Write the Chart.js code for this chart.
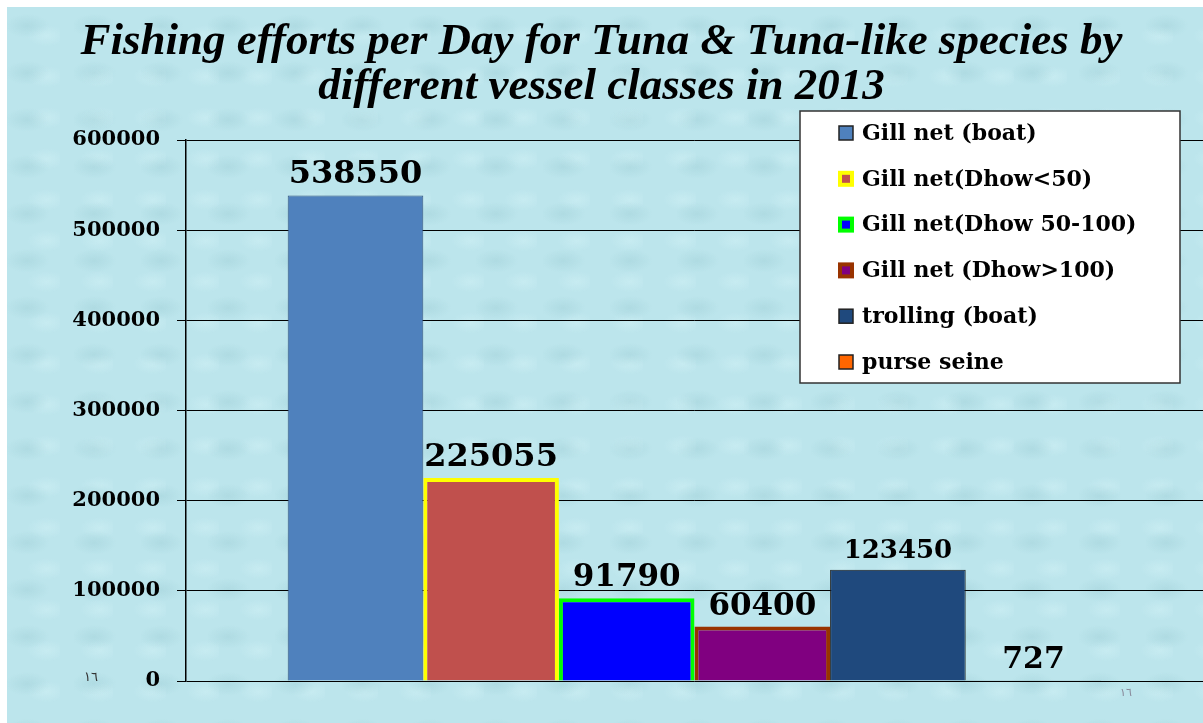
<!DOCTYPE html>
<html>
<head>
<meta charset="utf-8">
<script src="https://cdn.jsdelivr.net/npm/chart.js@4"></script>
<style>
  html, body { margin: 0; padding: 0; background: #fff; }
  #wrap {
    position: absolute; left: 7px; top: 7px; width: 1196px; height: 716px;
    background-color: #bce5ec;
    background-image:
      radial-gradient(ellipse 30px 16px at 30% 40%, rgba(150,200,208,0.35), rgba(150,200,208,0) 75%),
      radial-gradient(ellipse 26px 14px at 75% 70%, rgba(212,243,247,0.45), rgba(212,243,247,0) 75%);
    background-size: 67px 47px, 53px 41px;
  }
  canvas { position: absolute; left: 0; top: 0; }
</style>
</head>
<body>
<div id="wrap"></div>
<canvas id="grafico" width="1203" height="723"></canvas>
<script>
// dados do gráfico
const categorias = [''];
const series = ['Gill net (boat)', 'Gill net(Dhow<50)', 'Gill net(Dhow 50-100)', 'Gill net (Dhow>100)', 'trolling (boat)', 'purse seine'];
const valores = [538550, 225055, 91790, 60400, 123450, 727];
const yTicks = [0, 100000, 200000, 300000, 400000, 500000, 600000];

// estilos
const corFundo = ['#4F81BD', '#C0504D', '#0000FF', '#800080', '#1F497D', '#FF6600'];
const corBorda = ['#34557e', '#FFFF00', '#00FF00', '#993300', '#1a1a1a', '#1a1a1a'];
const larguraBorda = [1, 4, 4, 4, 1, 1];
const tamanhoRotulo = [32, 32, 31, 31, 26, 30];
const fonteSerif = "'DejaVu Serif', serif";

// rótulos de valores acima das barras
const rotulosPlugin = {
    id: 'rotulos',
    afterDatasetsDraw(chart) {
        const ctx = chart.ctx;
        ctx.save();
        ctx.fillStyle = '#000';
        ctx.textAlign = 'center';
        ctx.textBaseline = 'alphabetic';
        chart.data.datasets.forEach((ds, i) => {
            const bar = chart.getDatasetMeta(i).data[0];
            ctx.font = `bold ${tamanhoRotulo[i]}px ${fonteSerif}`;
            ctx.fillText(String(ds.data[0]), bar.x, bar.y - 12);
        });
        ctx.restore();
    }
};

// legenda desenhada sobre a área do gráfico
const legendaPlugin = {
    id: 'legendaCaixa',
    afterDraw(chart) {
        const ctx = chart.ctx;
        ctx.save();
        ctx.fillStyle = '#fff';
        ctx.fillRect(800, 111, 380, 272);
        ctx.strokeStyle = '#333';
        ctx.lineWidth = 1.5;
        ctx.strokeRect(800, 111, 380, 272);
        ctx.font = `bold 22px ${fonteSerif}`;
        ctx.textBaseline = 'middle';
        chart.data.datasets.forEach((ds, i) => {
            const cy = 133 + i * 45.8;
            if (larguraBorda[i] > 1) {
                ctx.fillStyle = corBorda[i];
                ctx.fillRect(838, cy - 8, 16, 16);
                ctx.fillStyle = corFundo[i];
                ctx.fillRect(842, cy - 4, 8, 8);
            } else {
                ctx.fillStyle = corFundo[i];
                ctx.fillRect(839, cy - 7, 14, 14);
                ctx.strokeStyle = '#222';
                ctx.lineWidth = 1.5;
                ctx.strokeRect(839, cy - 7, 14, 14);
            }
            ctx.fillStyle = '#000';
            ctx.fillText(ds.label, 862, cy + 1);
        });
        // número do slide
        ctx.font = "13px 'DejaVu Sans'";
        ctx.fillStyle = '#333';
        ctx.fillText('١٦', 84, 678);
        ctx.fillStyle = '#889';
        ctx.font = "11px 'DejaVu Sans'";
        ctx.fillText('١٦', 1120, 693);
        ctx.restore();
    }
};

const ctx = document.getElementById('grafico').getContext('2d');
const chart = new Chart(ctx, {
    type: 'bar',
    data: {
        labels: categorias,
        datasets: series.map((nome, i) => ({
            label: nome,
            data: [valores[i]],
            backgroundColor: corFundo[i],
            borderColor: corBorda[i],
            borderWidth: larguraBorda[i],
            categoryPercentage: 0.8,
            barPercentage: 1.0
        }))
    },
    options: {
        responsive: false,
        animation: false,
        layout: { padding: { left: 0, right: 0, top: 0, bottom: 0 } },
        plugins: {
            legend: { display: false },
            tooltip: { enabled: false },
            title: {
                display: true,
                text: ['Fishing efforts per Day for Tuna & Tuna-like species by', 'different vessel classes in 2013'],
                color: '#000',
                font: { family: "'Liberation Serif', serif", size: 45, style: 'italic', weight: 'bold', lineHeight: 1.0 },
                padding: { top: 20, bottom: 30 }
            }
        },
        scales: {
            x: {
                grid: { display: false },
                border: { display: false },
                ticks: { display: false },
                afterFit(s) { s.height = 42; }
            },
            y: {
                min: 0,
                max: 600000,
                afterBuildTicks(s) { s.ticks = yTicks.map(v => ({ value: v })); },
                afterFit(s) { s.width = 186; },
                grid: { color: '#000', lineWidth: 1, tickLength: 9, drawTicks: true },
                border: { display: true, color: '#000', width: 1.5 },
                ticks: {
                    color: '#000',
                    padding: 17,
                    font: { family: fonteSerif, size: 21, weight: 'bold' },
                    callback: v => String(v)
                }
            }
        }
    },
    plugins: [rotulosPlugin, legendaPlugin]
});
</script>
</body>
</html>
